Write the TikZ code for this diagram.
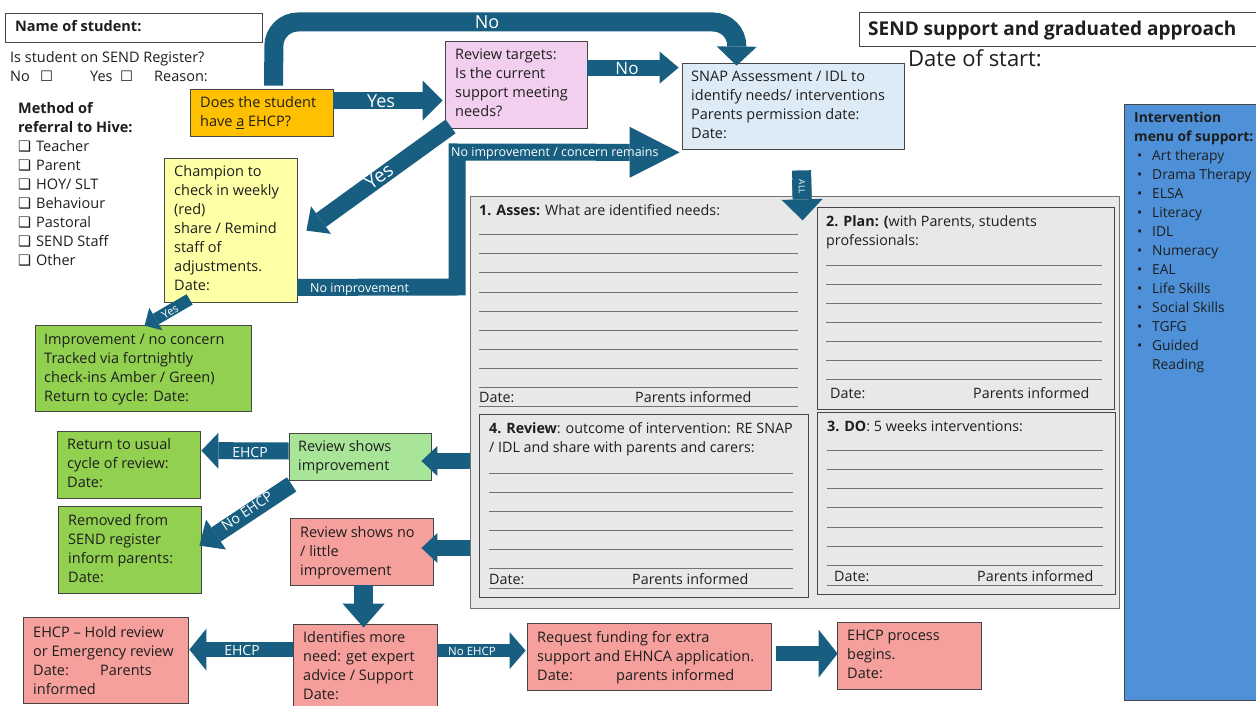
\documentclass[tikz,border=0pt]{standalone}
\usepackage{fontspec}
\setmainfont{Open Sans}
\newfontfamily\sym{DejaVu Sans}
\usetikzlibrary{arrows.meta,fit,calc}
\definecolor{arr}{RGB}{23,94,128}
\definecolor{orng}{RGB}{255,192,0}
\definecolor{pnk}{RGB}{242,207,238}
\definecolor{lblue}{RGB}{221,235,247}
\definecolor{ylw}{RGB}{255,255,166}
\definecolor{grn}{RGB}{146,208,80}
\definecolor{lgrn}{RGB}{169,229,152}
\definecolor{salm}{RGB}{245,160,156}
\definecolor{frm}{RGB}{232,232,232}
\definecolor{menu}{RGB}{78,145,216}
\definecolor{bord}{RGB}{70,70,70}
\definecolor{ink}{RGB}{30,30,30}
\newcommand\fs{\fontsize{14.5}{19}\selectfont}
\newcommand\ffs{\fontsize{14.3}{19}\selectfont}
\newcommand\pb[1]{\parbox[t]{400pt}{\raggedright #1}}
\begin{document}
\begin{tikzpicture}[x=1pt,y=-1pt,
  box/.style={draw=bord, line width=0.8pt, inner sep=0pt},
  txt/.style={anchor=base west, inner sep=0pt, font=\fs, text=ink},
  ftxt/.style={anchor=base west, inner sep=0pt, font=\ffs, text=ink},
  alab/.style={text=white, inner sep=0pt, font=\fontsize{#1}{#1}\selectfont},
  flow/.style={draw=arr, line width=#1, line join=miter},
  hd/.style 2 args={-{Triangle[length=#1,width=#2,line width=0pt]}},
  fl/.style={draw=black!55, line width=0.8pt}]
\useasboundingbox (0,0) rectangle (1256,706);
\fill[white] (0,0) rectangle (1256,706);

% ---------- header texts ----------
\node[box, fill=white, fit={(5,13)(262,42)}] (name) {};
\node[txt, font=\fs\bfseries] (namet) at (15,32) {Name of student:};
\node[txt] (reg) at (10,63) {\pb{Is student on SEND Register?\\
  \makebox[30pt][l]{No}\makebox[50pt][l]{\sym ☐}\makebox[30pt][l]{Yes}\makebox[34pt][l]{\sym ☐}Reason:}};
\node[txt] (meth) at (18,114) {\pb{\textbf{Method of}\\\textbf{referral to Hive:}\\
  \makebox[18pt][l]{\sym ❑}Teacher\\
  \makebox[18pt][l]{\sym ❑}Parent\\
  \makebox[18pt][l]{\sym ❑}HOY/ SLT\\
  \makebox[18pt][l]{\sym ❑}Behaviour\\
  \makebox[18pt][l]{\sym ❑}Pastoral\\
  \makebox[18pt][l]{\sym ❑}SEND Staff\\
  \makebox[18pt][l]{\sym ❑}Other}};

\node[box, fill=white, fit={(859,12)(1262,46)}] (title) {};
\node[txt, font=\fontsize{19}{22}\selectfont\bfseries] (titlet) at (868,36) {SEND support and graduated approach};
\node[txt, font=\fontsize{22}{24}\selectfont] (dstart) at (908,67) {Date of start:};

% ---------- intervention menu ----------
\node[box, fill=menu, fit={(1124,104)(1262,700)}] (menu) {};
\node[txt, font=\fontsize{13.8}{19}\selectfont] (menut) at (1134,123) {\pb{\textbf{Intervention}\\\textbf{menu of support:}\\
  \hspace*{3pt}\makebox[15pt][l]{\textbullet}Art therapy\\
  \hspace*{3pt}\makebox[15pt][l]{\textbullet}Drama Therapy\\
  \hspace*{3pt}\makebox[15pt][l]{\textbullet}ELSA\\
  \hspace*{3pt}\makebox[15pt][l]{\textbullet}Literacy\\
  \hspace*{3pt}\makebox[15pt][l]{\textbullet}IDL\\
  \hspace*{3pt}\makebox[15pt][l]{\textbullet}Numeracy\\
  \hspace*{3pt}\makebox[15pt][l]{\textbullet}EAL\\
  \hspace*{3pt}\makebox[15pt][l]{\textbullet}Life Skills\\
  \hspace*{3pt}\makebox[15pt][l]{\textbullet}Social Skills\\
  \hspace*{3pt}\makebox[15pt][l]{\textbullet}TGFG\\
  \hspace*{3pt}\makebox[15pt][l]{\textbullet}Guided\\
  \hspace*{18pt}Reading}};

% ---------- flow boxes ----------
\node[box, fill=orng, fit={(190,89)(333,136)}] (ehcpq) {};
\node[txt] (ehcpqt) at (200,108) {\pb{Does the student\\have \underline{a} EHCP?}};

\node[box, fill=pnk, fit={(445,41)(587,128)}] (rev) {};
\node[txt] (revt) at (455,60) {\pb{Review targets:\\Is the current\\support meeting\\needs?}};

\node[box, fill=lblue, fit={(682,63)(904,149)}] (snap) {};
\node[txt] (snapt) at (691,82) {\pb{SNAP Assessment / IDL to\\identify needs/ interventions\\Parents permission date:\\Date:}};

\node[box, fill=ylw, fit={(164,158)(297,302)}] (champ) {};
\node[txt] (champt) at (174,177) {\pb{Champion to\\check in weekly\\(red)\\share / Remind\\staff of\\adjustments.\\Date:}};

\node[box, fill=grn, fit={(35,325)(251,411)}] (impr) {};
\node[txt] (imprt) at (44,344) {\pb{Improvement / no concern\\Tracked via fortnightly\\check-ins Amber / Green)\\Return to cycle: Date:}};

\node[box, fill=grn, fit={(57,431)(200,498)}] (usual) {};
\node[txt] (usualt) at (67,449) {\pb{Return to usual\\cycle of review:\\Date:}};

\node[box, fill=lgrn, fit={(289,433)(431,480)}] (rsi) {};
\node[txt] (rsit) at (298,451) {\pb{Review shows\\improvement}};

\node[box, fill=grn, fit={(58,506)(201,593)}] (remo) {};
\node[txt] (remot) at (68,525) {\pb{Removed from\\SEND register\\inform parents:\\Date:}};

\node[box, fill=salm, fit={(290,518)(433,585)}] (rsn) {};
\node[txt] (rsnt) at (300,537) {\pb{Review shows no\\/ little\\improvement}};

\node[box, fill=salm, fit={(293,624)(437,712)}] (ident) {};
\node[txt] (identt) at (303,642) {\pb{Identifies more\\need: get expert\\advice / Support\\Date:}};

\node[box, fill=salm, fit={(23,617)(188,703)}] (hold) {};
\node[txt] (holdt) at (33,637) {\pb{EHCP -- Hold review\\or Emergency review\\\makebox[67pt][l]{Date:}Parents\\informed}};

\node[box, fill=salm, fit={(527,623)(771,690)}] (req) {};
\node[txt] (reqt) at (537,642) {\pb{Request funding for extra\\support and EHNCA application.\\\makebox[79pt][l]{Date:}parents informed}};

\node[box, fill=salm, fit={(837,622)(981,689)}] (proc) {};
\node[txt] (proct) at (847,640) {\pb{EHCP process\\begins.\\Date:}};

% ---------- arrows ----------
\draw[flow=19pt, rounded corners=24pt, hd={19pt}{40pt}]
  ($(ehcpq.north west)+(84,-3)$) -- (274,22) -- (737,22) -- ($(snap.north west)+(55,3)$);
\node[alab=18] (lno1) at (487,22) {No};

\draw[flow=17pt, hd={20pt}{40pt}] ($(ehcpq.north east)+(0,12)$) -- ($(rev.north west)+(-2,60)$);
\node[alab=18] (lyes1) at (381,101) {Yes};

\draw[flow=16pt, hd={19pt}{32pt}] ($(rev.north east)+(0,27)$) -- ($(snap.north west)+(-3,5)$);
\node[alab=17] (lno2) at (627,69) {No};

\draw[flow=17pt, hd={18pt}{34pt}] ($(rev.south west)+(6,-2)$) -- ($(champ.north east)+(9,73)$);
\node[alab=19, rotate=36] (lyes2) at (379,176) {Yes};

\draw[flow=17pt, hd={50pt}{51pt}] ($(champ.south east)+(0,-15)$) -- (457,287) -- (457,152) -- ($(snap.south west)+(-2,3)$);
\node[alab=12.5, anchor=west] (lnoi) at (310,289) {No improvement};
\node[alab=12.5, anchor=west] (lnoc) at (451,153) {No improvement / concern remains};

\draw[flow=19pt, hd={21pt}{41pt}] ($(snap.south west)+(120,21)$) -- ($(snap.south west)+(121,71)$);

\draw[flow=12pt, hd={13pt}{26pt}] ($(champ.south west)+(26,-3)$) -- ($(impr.north west)+(110,1)$);
\node[alab=11, rotate=31] (lyes3) at (170,312) {Yes};

\draw[flow=16pt, hd={16pt}{30pt}] (470,461) -- ($(rsi.east)+(-10,4.5)$);
\draw[flow=16pt, hd={16pt}{30pt}] (470,548) -- ($(rsn.east)+(-12,-3.5)$);

\draw[flow=17pt, hd={17pt}{36pt}] ($(rsi.west)+(0,-5.5)$) -- ($(usual.north east)+(1,20)$);
\node[alab=14] (lehcp1) at (250,452) {EHCP};

\draw[flow=17pt, hd={20pt}{36pt}] ($(rsi.south west)+(3,4)$) -- ($(remo.north east)+(-2,40)$);
\node[alab=14, rotate=34] (lnoehcp1) at (247,511) {No EHCP};

\draw[flow=19pt, hd={24pt}{42pt}] ($(rsn.south west)+(74,0)$) -- ($(ident.north west)+(71,4)$);

\draw[flow=15pt, hd={17pt}{42pt}] ($(ident.north west)+(0,26)$) -- ($(hold.north east)+(1,33)$);
\node[alab=14] (lehcp2) at (242,650) {EHCP};

\draw[flow=13pt, hd={16pt}{37pt}] ($(ident.north east)+(0,27)$) -- ($(req.north west)+(-1,28)$);
\node[alab=11.5] (lnoehcp2) at (472,651) {No EHCP};

\draw[flow=15pt, hd={19pt}{48pt}] ($(req.north east)+(5,31)$) -- ($(proc.north west)+(1,32)$);

% ---------- form ----------
\node[draw=black!55, line width=0.8pt, fill=frm, inner sep=0pt, fit={(470,196)(1119,608)}] (form) {};
\node[box, fill=frm, fit={(817,207)(1114,409)}] (plan) {};
\node[box, fill=frm, fit={(479,414)(808,597)}] (review) {};
\node[box, fill=frm, fit={(817,412)(1115,594)}] (do) {};

% ALL arrow tip drawn over the form
\draw[flow=19pt, hd={21pt}{41pt}] ($(snap.south west)+(120,30)$) -- ($(snap.south west)+(121,71)$);
\node[alab=8.5, rotate=-90] (lall) at (802,187) {ALL};

% Assess
\node[ftxt] (asst) at (479,215) {\textbf{1. Asses:} What are identified needs:};
\foreach \y in {234,253,272,292,311,330,349,368,387,406} \draw[fl] (479,\y) -- (798,\y);
\node[ftxt] (assd) at (479,402) {Date:};
\node[ftxt] (assp) at (635,402) {Parents informed};

% Plan
\node[ftxt] (plant) at (826,226) {\pb{\textbf{2. Plan: (}with Parents, students\\professionals:}};
\foreach \y in {265,284,303,322,341,360,379} \draw[fl] (826,\y) -- (1102,\y);
\node[ftxt] (pland) at (830,398) {Date:};
\node[ftxt] (planp) at (973,398) {Parents informed};

% Review
\node[ftxt] (revwt) at (489,433) {\pb{\textbf{4. Review}: outcome of intervention: RE SNAP\\/ IDL and share with parents and carers:}};
\foreach \y in {473,492,511,530,549,568,588} \draw[fl] (489,\y) -- (793,\y);
\node[ftxt] (revwd) at (489,584) {Date:};
\node[ftxt] (revwp) at (632,584) {Parents informed};

% Do
\node[ftxt] (dot) at (827,431) {\textbf{3. DO}: 5 weeks interventions:};
\foreach \y in {450,469,488,507,527,546,565,585} \draw[fl] (827,\y) -- (1103,\y);
\node[ftxt] (dod) at (834,581) {Date:};
\node[ftxt] (dop) at (977,581) {Parents informed};
\end{tikzpicture}
\end{document}
